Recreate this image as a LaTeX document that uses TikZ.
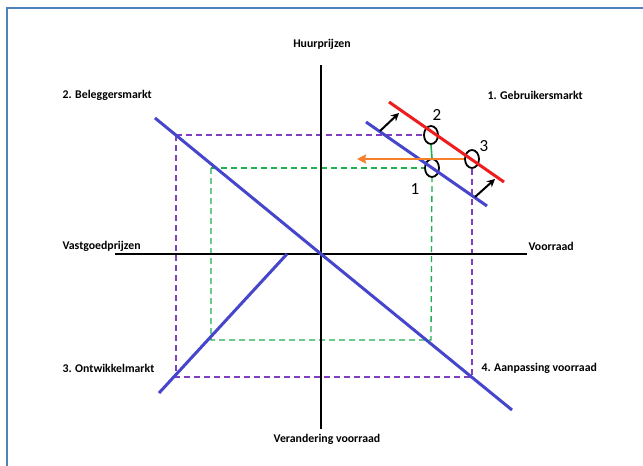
\documentclass[tikz,border=0pt]{standalone}
\usepackage{fontspec}
\setmainfont{Carlito}
\usetikzlibrary{shapes.geometric, arrows.meta}
\definecolor{frameblue}{HTML}{4F81BD}
\definecolor{lineblue}{HTML}{4646CC}
\definecolor{linered}{HTML}{EE1C1C}
\definecolor{dashpurple}{HTML}{7F3FBF}
\definecolor{dashgreen}{HTML}{1FAF4F}
\definecolor{shiftorange}{HTML}{F57F2A}
\begin{document}
\begin{tikzpicture}[x=1pt, y=-1pt, font=\bfseries\fontsize{11.8}{14}\selectfont]
        \tikzset{
            frame/.style={draw=frameblue, line width=1.6pt},
            axis/.style={draw=black, line width=2.4pt},
            curve/.style={draw=lineblue, line width=3pt},
            newcurve/.style={draw=linered, line width=3pt},
            outer/.style={draw=dashpurple, line width=1.3pt, dash pattern=on 6pt off 4pt},
            inner/.style={draw=dashgreen, line width=1.3pt, dash pattern=on 6pt off 4pt},
            curveshift/.style={-{Stealth[length=8pt, width=8pt]}, draw=black, line width=2pt},
            ring/.style={ellipse, draw=black, line width=1.8pt, minimum width=14pt,
                minimum height=18pt, inner sep=0pt},
            num/.style={font=\fontsize{17}{19}\selectfont},
            quadrant/.style={anchor=west}
        }

        \useasboundingbox (0,0) rectangle (643,466);
        \fill[white] (0,0) rectangle (643,466);
        \draw[frame] (7,470) -- (7,8) -- (647,8);

        % assen
        \coordinate (origin) at (321,254);
        \coordinate (north) at (321,65);
        \coordinate (south) at (321,429);
        \coordinate (west) at (115,254);
        \coordinate (east) at (527,254);

        % hulplijnen
        \node[ring] (ring2) at (431,135) {};
        \node[ring] (ring1) at (432,168) {};
        \node[ring] (ring3) at (472,159) {};

        \draw[outer] (176,135) -- (ring2.west);
        \draw[outer] (176,135) -- (176,377) -- (472,377) -- (ring3.south);
        \draw[inner] (211,168) -- (ring1.west);
        \draw[inner] (211,168) -- (211,340) -- (431,340) -- (ring1.south);
        \draw[draw=dashgreen, line width=1.6pt] (ring2.south) -- (ring1.north);

        \draw[axis] (north) -- (south);
        \draw[axis] (west) -- (east);

        % curves
        \draw[curve] (155,118) -- (origin) -- (512,410);
        \draw[curve] (287,254) -- (159,393);
        \draw[curve] (366,122) -- (487,206);
        \draw[newcurve] (389,102) -- (504,182);

        \coordinate (newprice) at (357,159);
        \draw[-{Stealth[length=9pt, width=9pt, inset=1pt]}, draw=shiftorange, line width=2pt]
            (ring3.west) -- (newprice);
        \draw[curveshift] (380,131) -- (399,113);
        \draw[curveshift] (475,197) -- (495,179);

        \node[num] at (437,115) {2};
        \node[num] at (484,146) {3};
        \node[num] at (415,189) {1};

        % labels
        \node at (322,44) {Huurprijzen};
        \node at (327,439) {Verandering voorraad};
        \node[quadrant] at (59,246) {Vastgoedprijzen};
        \node[quadrant] at (525,246) {Voorraad};
        \node[quadrant] at (59,95) {2. Beleggersmarkt};
        \node[quadrant] at (484,95) {1. Gebruikersmarkt};
        \node[quadrant] at (59,368) {3. Ontwikkelmarkt};
        \node[quadrant] at (478,368) {4. Aanpassing voorraad};
    \end{tikzpicture}
\end{document}
